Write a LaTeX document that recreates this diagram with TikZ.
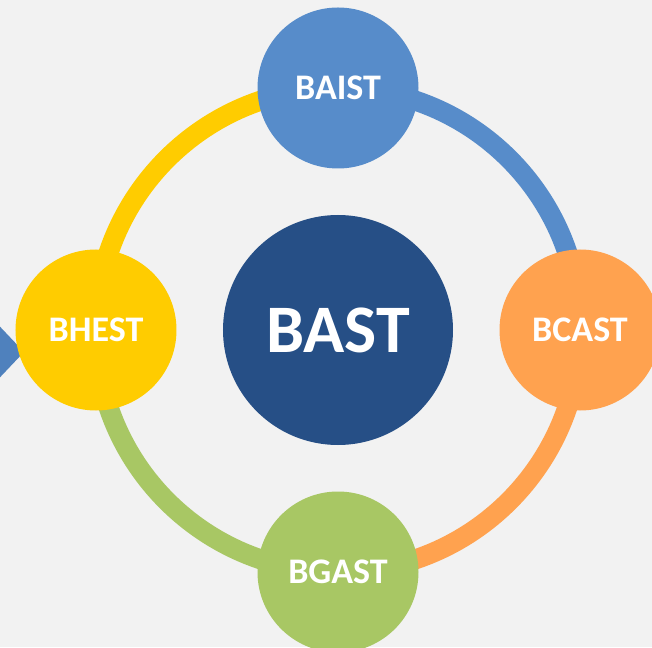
\documentclass[tikz,border=0pt]{standalone}
\usepackage{fontspec}
\setmainfont{Carlito}
\usetikzlibrary{positioning,backgrounds}

\definecolor{bgGray}{HTML}{F2F2F2}
\definecolor{hubBlue}{HTML}{264F86}
\definecolor{skyBlue}{HTML}{578CCA}
\definecolor{sunOrange}{HTML}{FFA24F}
\definecolor{leafGreen}{HTML}{A8C764}
\definecolor{goldYellow}{HTML}{FFCC00}
\definecolor{arrowBlue}{HTML}{4F81BD}

\begin{document}
\begin{tikzpicture}[x=1pt,y=1pt,node distance=242pt,
    hub/.style={circle,fill=hubBlue,text=white,minimum size=230pt,inner sep=0pt,
                font=\fontsize{68}{68}\selectfont\bfseries},
    spoke/.style={circle,text=white,minimum size=161pt,inner sep=0pt,
                font=\fontsize{36}{36}\selectfont\bfseries},
    ring/.style={line width=20pt}]
			\useasboundingbox (-338,-317) rectangle (314,330);
			\clip (-338,-317) rectangle (314,330);
			\node[hub]                          (bast)  at (0,0) {BAST};
			\node[spoke, fill=skyBlue,    above of=bast] (baist) {BAIST};
			\node[spoke, fill=sunOrange,  right of=bast] (bcast) {BCAST};
			\node[spoke, fill=leafGreen,  below of=bast] (bgast) {BGAST};
			\node[spoke, fill=goldYellow, left of=bast]  (bhest) {BHEST};
			\begin{scope}[on background layer]
				\fill[bgGray] (-338,-317) rectangle (314,330);
				\draw[ring, skyBlue]    (baist.center) arc[start angle=90,  end angle=0,    radius=242pt];
				\draw[ring, sunOrange]  (bcast.center) arc[start angle=0,   end angle=-90,  radius=242pt];
				\draw[ring, leafGreen]  (bgast.center) arc[start angle=-90, end angle=-180, radius=242pt];
				\draw[ring, goldYellow] (bhest.center) arc[start angle=180, end angle=90,   radius=242pt];
				% arrow coming in from the left edge
				\coordinate (tip) at (-314,-22);
				\fill[arrowBlue] (-350,16) -- (tip) -- (-350,-60) -- cycle;
			\end{scope}
		\end{tikzpicture}
\end{document}
